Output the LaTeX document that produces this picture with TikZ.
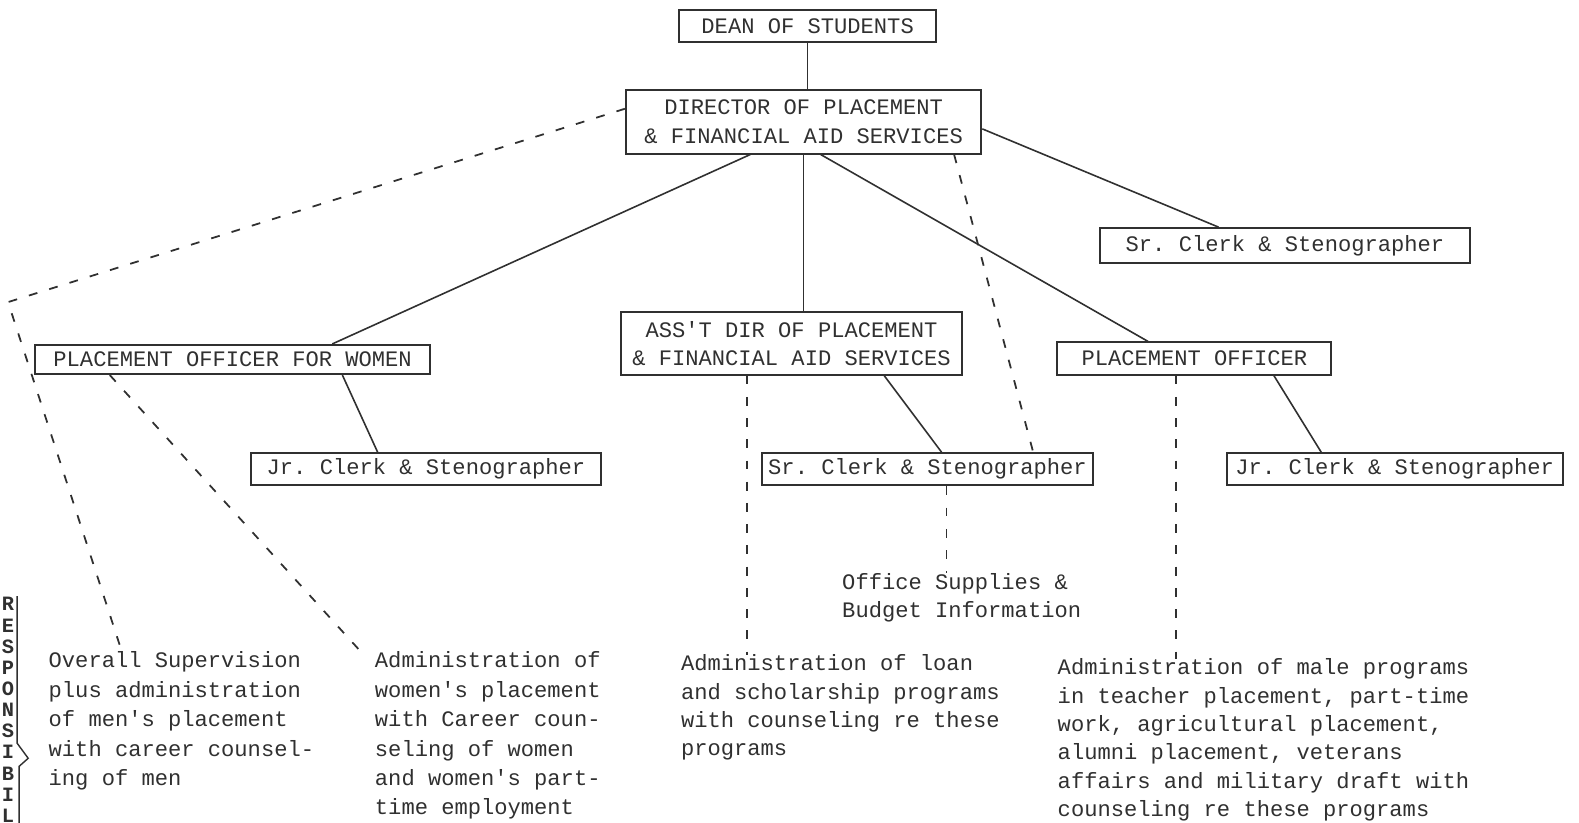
\documentclass[tikz,border=0pt]{standalone}
\usepackage{fontspec}
\setmonofont{Liberation Mono}
\usetikzlibrary{calc}
\definecolor{ink}{HTML}{303030}
\tikzset{
  box/.style={draw=ink, line width=1.1pt, inner sep=0pt, text=ink, align=center},
  solidcon/.style={draw=ink, line width=0.9pt},
  dashcon/.style={draw=ink, line width=1pt, dash pattern=on 5pt off 7pt},
  note/.style={anchor=north west, inner sep=0pt, align=left, text=ink},
  widenote/.style={note, font=\ttfamily\fontsize{12.5}{16.6}\selectfont},
  vletter/.style={inner sep=0pt, text=ink, font=\ttfamily\fontsize{11.5}{12}\selectfont\bfseries}
}
\begin{document}
\begin{tikzpicture}[x=0.02cm,y=-0.02cm, font=\ttfamily\fontsize{12.5}{16}\selectfont]
\useasboundingbox (0,0) rectangle (1568,817);
% boxes
\node[box, minimum width=255*0.02cm, minimum height=32*0.02cm] (dean) at (802,26) {DEAN OF STUDENTS};
\node[box, minimum width=353*0.02cm, minimum height=63*0.02cm] (dir) at (798,121) {DIRECTOR OF PLACEMENT\\\& FINANCIAL AID SERVICES};
\node[box, minimum width=368*0.02cm, minimum height=35*0.02cm] (srTR) at (1276,244) {Sr. Clerk \& Stenographer};
\node[box, minimum width=392*0.02cm, minimum height=29*0.02cm] (pow) at (231,357) {PLACEMENT OFFICER FOR WOMEN};
\node[box, minimum width=338*0.02cm, minimum height=62*0.02cm] (asst) at (786,341) {ASS'T DIR OF PLACEMENT\\\& FINANCIAL AID SERVICES};
\node[box, minimum width=272*0.02cm, minimum height=32*0.02cm] (po) at (1186,356) {PLACEMENT OFFICER};
\node[box, minimum width=347*0.02cm, minimum height=32*0.02cm] (jrL) at (423,466) {Jr. Clerk \& Stenographer};
\node[box, minimum width=328*0.02cm, minimum height=32*0.02cm] (srM) at (921,466) {Sr. Clerk \& Stenographer};
\node[box, minimum width=334*0.02cm, minimum height=32*0.02cm] (jrR) at (1385,466) {Jr. Clerk \& Stenographer};
% notes
\node[widenote] (t1) at (48,647) {Overall Supervision\\plus administration\\of men's placement\\with career counsel-\\ing of men};
\node[widenote] (t2) at (372,647) {Administration of\\women's placement\\with Career coun-\\seling of women\\and women's part-\\time employment};
\node[note] (t3) at (676,650) {Administration of loan\\and scholarship programs\\with counseling re these\\programs};
\node[note] (t4) at (836,569) {Office Supplies \&\\Budget Information};
\node[note] (t5) at (1050,654) {Administration of male programs\\in teacher placement, part-time\\work, agricultural placement,\\alumni placement, veterans\\affairs and military draft with\\counseling re these programs};
% vertical RESPONSIBILI
\foreach \ch [count=\i from 0] in {R,E,S,P,O,N,S,I,B,I,L,I}{
  \node[vletter] (v\i) at (8,600+21*\i) {\ch};
}
\coordinate (bt) at (17,592);
\coordinate (bm) at (17,738);
\coordinate (bp) at (28,753);
\coordinate (bn) at (19,761);
\coordinate (bb) at (19,830);
\draw[ink, line width=0.8pt] (bt) -- (bm) -- (bp) -- (bn) -- (bb);
% solid connectors
\draw[solidcon] (dean.south) -- (dean.south |- dir.north);
\draw[solidcon] (dir.south) -- (dir.south |- asst.north);
\draw[solidcon] ($(dir.south)+(-53,0)$) -- ($(pow.north)+(99,0)$);
\draw[solidcon] ($(dir.south)+(17,0)$) -- ($(po.north)+(-46,0)$);
\draw[solidcon] ($(dir.east)+(0,7)$) -- ($(srTR.north)+(-66,0)$);
\draw[solidcon] ($(pow.south)+(109,0)$) -- ($(jrL.north)+(-48,0)$);
\draw[solidcon] ($(asst.south)+(92,0)$) -- ($(srM.north)+(14,0)$);
\draw[solidcon] ($(po.south)+(79,0)$) -- ($(jrR.north)+(-73,0)$);
% dashed connectors
\coordinate (corner) at (8,300);
\coordinate (a1) at ($(asst.south)+(-44,0)$);
\coordinate (s1) at ($(srM.south)+(19,0)$);
\coordinate (p1) at ($(po.south)+(-18,0)$);
\draw[dashcon] ($(dir.west)+(0,-13)$) -- (corner) -- ($(t1.north west)+(72,-3)$);
\draw[dashcon] ($(pow.south west)+(75,0)$) -- ($(t2.north west)+(-12,2)$);
\draw[dashcon] (a1) -- (a1 |- t3.north);
\draw[dashcon] (s1) -- (s1 |- t4.north);
\draw[dashcon] ($(dir.south east)+(-28,0)$) -- ($(srM.north east)+(-60,0)$);
\draw[dashcon] (p1) -- (p1 |- t5.north);
\end{tikzpicture}
\end{document}
